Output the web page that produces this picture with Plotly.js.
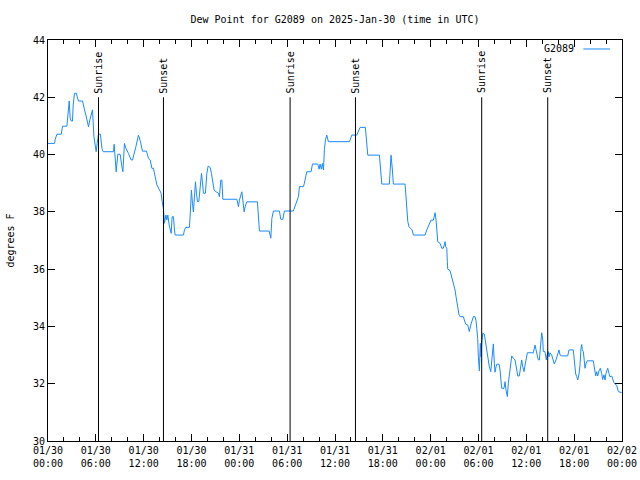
<!DOCTYPE html>
<html>
<head>
<meta charset="utf-8">
<script src="https://cdn.plot.ly/plotly-3.0.1.min.js"></script>
<style>html,body{margin:0;padding:0;background:#fff}#chart{width:640px;height:480px}</style>
</head>
<body>
<div id="chart"></div>
<script>
// Hours since 2025-01-30 00:00 UTC
var hoursSinceStart = [
0.00,0.82,0.90,1.12,1.66,1.82,2.37,2.45,2.57,2.66,
2.78,2.91,3.07,3.16,3.32,3.57,3.66,3.82,4.33,4.41,
4.58,4.75,4.92,5.08,5.25,5.42,5.58,5.76,5.92,6.04,
6.17,6.33,6.58,6.76,6.92,8.21,8.30,8.55,8.76,9.05,
9.27,9.39,9.59,9.77,10.09,10.43,10.60,10.77,11.02,11.35,
11.60,11.85,12.35,12.60,12.82,13.03,13.23,13.44,13.66,13.98,
14.19,14.32,14.48,14.61,14.78,14.91,15.03,15.20,15.32,15.45,
15.57,15.74,15.86,15.95,16.99,17.12,17.29,17.74,17.87,17.99,
18.12,18.24,18.37,18.50,18.62,18.75,18.92,19.08,19.25,19.37,
19.50,19.75,19.92,20.09,20.34,20.50,20.68,20.84,21.09,21.38,
21.50,21.68,21.81,21.93,23.69,23.89,24.01,24.19,24.31,24.44,
24.60,24.73,24.94,26.27,26.39,26.52,27.74,27.86,27.95,28.08,
28.28,29.03,29.20,29.45,29.66,30.78,31.00,31.21,31.41,31.54,
32.04,32.16,32.34,32.46,33.00,33.17,33.84,34.01,34.13,34.29,
34.42,34.55,34.67,34.80,34.97,35.17,37.81,37.98,38.11,38.73,
38.93,39.15,39.81,39.99,40.11,41.57,41.74,41.87,42.82,42.91,
43.03,43.20,43.32,44.79,45.00,45.13,45.29,45.50,45.67,45.83,
47.30,47.51,47.71,47.92,48.05,48.34,48.46,48.55,48.68,48.80,
48.89,49.18,49.39,49.59,49.72,49.81,49.89,50.02,50.09,50.14,
50.43,50.65,50.77,50.93,51.06,51.18,51.31,51.40,51.56,51.69,
52.10,52.23,52.40,52.65,52.85,53.03,53.15,53.35,53.57,53.69,
53.78,53.90,53.98,54.11,54.23,54.32,54.41,54.53,54.73,54.91,
55.03,55.23,55.36,55.54,55.66,55.79,55.86,55.99,56.07,56.20,
56.29,56.58,56.70,56.83,56.91,57.20,57.33,57.45,57.62,57.74,
57.87,58.08,58.17,58.37,58.58,58.80,58.92,59.12,59.34,59.42,
59.55,59.71,59.84,59.96,60.13,60.88,61.00,61.09,61.22,61.38,
61.50,61.63,61.80,61.93,62.06,62.13,62.34,62.43,62.51,62.60,
62.76,62.85,62.97,63.18,63.39,63.51,63.72,63.94,64.10,64.23,
64.44,65.19,65.35,65.89,66.02,66.19,66.32,66.45,66.61,66.73,
66.86,66.95,67.02,67.15,67.27,67.36,67.49,67.65,68.40,68.53,
68.70,68.83,68.95,69.12,69.28,69.45,69.58,69.74,69.87,69.99,
70.21,70.37,70.49,70.71,70.91,71.03,71.33,71.54,71.96
];
// Dew point, degrees F
var dewPointF = [
40.39,40.39,40.53,40.71,40.71,40.99,40.99,41.27,41.56,41.87,
41.27,41.17,41.17,41.73,42.14,42.14,42.02,41.87,41.87,41.73,
41.56,41.38,41.21,40.97,41.21,41.38,41.56,40.63,40.22,40.10,
40.39,40.71,40.71,40.22,40.10,40.10,40.36,39.40,40.01,40.01,
39.58,39.40,40.39,40.22,40.04,39.81,39.81,40.04,40.27,40.68,
40.45,40.12,40.12,39.87,39.81,39.52,39.52,39.23,38.94,38.77,
38.65,38.36,38.12,37.60,37.89,37.72,37.89,37.54,37.37,37.25,
37.83,37.83,37.37,37.19,37.19,37.37,37.46,37.46,38.06,38.76,
38.30,38.00,38.53,39.05,38.65,38.36,38.36,38.82,39.34,39.05,
38.65,38.65,39.34,39.60,39.55,39.34,39.05,38.76,38.70,38.65,
38.53,39.11,39.11,38.44,38.44,38.18,38.41,38.59,38.70,38.41,
38.00,38.18,38.35,38.35,37.60,37.33,37.33,37.13,37.08,37.77,
38.03,38.03,37.74,37.74,38.03,38.03,38.18,38.35,38.53,38.88,
38.88,39.00,39.23,39.40,39.40,39.67,39.67,39.49,39.67,39.49,
39.69,39.46,40.18,40.51,40.68,40.45,40.45,40.62,40.68,40.68,
40.80,40.95,40.95,40.27,39.98,39.98,39.23,38.97,38.97,39.58,
39.98,39.46,38.97,38.97,38.06,37.66,37.48,37.42,37.37,37.19,
37.19,37.37,37.51,37.60,37.71,37.71,37.83,37.97,37.71,37.25,
36.96,36.90,36.73,36.73,36.90,36.96,36.78,36.73,36.26,36.00,
35.95,35.74,35.56,35.39,35.27,35.04,34.78,34.57,34.40,34.34,
34.34,34.22,34.08,34.05,33.82,34.05,34.20,34.34,34.34,34.20,
33.93,33.58,32.94,32.45,33.41,32.94,33.41,33.76,33.73,33.41,
33.06,32.83,32.59,32.42,32.71,33.12,33.39,32.71,32.40,32.59,
32.68,32.68,32.48,32.07,31.84,31.84,32.07,31.78,31.55,32.01,
32.36,32.83,32.97,32.89,32.83,32.48,32.27,32.27,32.71,32.83,
32.59,32.42,32.65,32.83,33.08,33.08,33.29,33.35,33.18,33.00,
32.83,32.83,33.47,33.78,33.53,33.12,33.12,33.00,32.83,33.00,
33.12,32.94,33.08,33.00,32.83,32.69,32.83,33.04,33.18,33.00,
32.97,32.97,33.18,33.18,32.83,32.34,32.25,32.13,32.34,32.65,
33.24,33.37,33.18,33.12,32.80,32.54,32.71,32.80,32.80,32.54,
32.27,32.42,32.27,32.45,32.54,32.36,32.15,32.31,32.13,32.36,
32.54,32.36,32.24,32.27,32.13,32.01,31.95,31.72,31.69
];
var sunriseTimes = ['2025-01-30 06:20','2025-01-31 06:22','2025-02-01 06:24'];
var sunsetTimes  = ['2025-01-30 14:29','2025-01-31 14:34','2025-02-01 14:41'];
var xTickVals = ['2025-01-30 00:00','2025-01-30 06:00','2025-01-30 12:00','2025-01-30 18:00',
                 '2025-01-31 00:00','2025-01-31 06:00','2025-01-31 12:00','2025-01-31 18:00',
                 '2025-02-01 00:00','2025-02-01 06:00','2025-02-01 12:00','2025-02-01 18:00',
                 '2025-02-02 00:00'];
var xTickText = ['01/30<br>00:00','01/30<br>06:00','01/30<br>12:00','01/30<br>18:00',
                 '01/31<br>00:00','01/31<br>06:00','01/31<br>12:00','01/31<br>18:00',
                 '02/01<br>00:00','02/01<br>06:00','02/01<br>12:00','02/01<br>18:00',
                 '02/02<br>00:00'];
var yTickVals = [30,32,34,36,38,40,42,44];
var seriesName = 'G2089';

var startMs = Date.UTC(2025,0,30,0,0,0);
function toDateStr(h){
  return new Date(startMs + h*3600000).toISOString().replace('T',' ').slice(0,19);
}
var xDates = hoursSinceStart.map(toDateStr);

var FONT = 'DejaVu Sans Mono, monospace';
var lineColor = '#1a8aff';

var shapes = [];
var annotations = [];
function addEvent(t, label){
  shapes.push({type:'line', xref:'x', yref:'y', x0:t, x1:t, y0:30, y1:42,
               line:{color:'#000', width:1}});
  annotations.push({xref:'x', yref:'y', x:t, y:42, text:label, showarrow:false,
                    textangle:-90, xanchor:'center', yanchor:'bottom', yshift:3, borderpad:0,
                    font:{family:FONT, size:10, color:'#000'}});
}
sunriseTimes.forEach(function(t){ addEvent(t,'Sunrise'); });
sunsetTimes.forEach(function(t){ addEvent(t,'Sunset'); });

// legend (gnuplot style: text then sample)
annotations.push({xref:'paper', yref:'paper', x:0.9185, y:0.9776, text:seriesName, showarrow:false,
                  xanchor:'right', yanchor:'middle', borderpad:0,
                  font:{family:FONT, size:10, color:'#000'}});
shapes.push({type:'line', xref:'paper', yref:'paper', x0:0.9326, x1:0.9791, y0:0.9776, y1:0.9776,
             line:{color:lineColor, width:1}});

var trace = {
  x: xDates, y: dewPointF, type:'scatter', mode:'lines', name: seriesName,
  line:{color:lineColor, width:1, shape:'linear'}, showlegend:false, hoverinfo:'skip'
};

var layout = {
  width:640, height:480,
  margin:{l:48, r:18, t:40, b:39, pad:0},
  paper_bgcolor:'#fff', plot_bgcolor:'#fff',
  font:{family:FONT, size:10, color:'#000'},
  title:{text:'Dew Point for G2089 on 2025-Jan-30 (time in UTC)', x:0.5, xref:'paper',
         y:0.96, yref:'container', yanchor:'middle', font:{family:FONT, size:10, color:'#000'}},
  xaxis:{type:'date', range:['2025-01-30 00:00','2025-02-02 00:00'],
         tickmode:'array', tickvals:xTickVals, ticktext:xTickText,
         ticks:'inside', ticklen:7, tickwidth:1, tickcolor:'#000',
         showline:true, linecolor:'#000', linewidth:1, mirror:'allticks',
         showgrid:false, zeroline:false,
         minor:{dtick:7200000, ticks:'inside', ticklen:4, tickcolor:'#000', showgrid:false},
         tickfont:{family:FONT, size:10, color:'#000'}},
  yaxis:{range:[30,44], tickmode:'array', tickvals:yTickVals,
         ticks:'inside', ticklen:7, tickwidth:1, tickcolor:'#000',
         showline:true, linecolor:'#000', linewidth:1, mirror:'allticks',
         showgrid:false, zeroline:false,
         tickfont:{family:FONT, size:10, color:'#000'},
         title:{text:'degrees F', standoff:16, font:{family:FONT, size:10, color:'#000'}}},
  shapes:shapes, annotations:annotations, showlegend:false
};

Plotly.newPlot('chart', [trace], layout, {staticPlot:true, displayModeBar:false});
</script>
</body>
</html>
